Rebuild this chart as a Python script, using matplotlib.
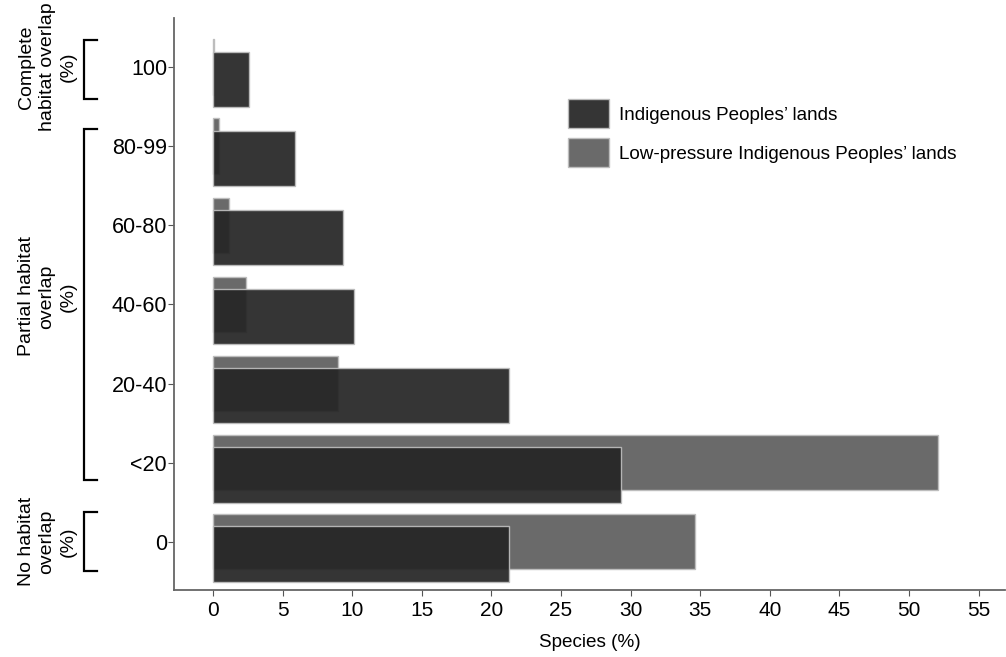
import numpy as np
import matplotlib
matplotlib.use("Agg")
import matplotlib.pyplot as plt
from matplotlib.transforms import blended_transform_factory

plt.rcParams["font.family"] = ["Liberation Sans", "DejaVu Sans"]

categories = ["0", "<20", "20-40", "40-60", "60-80", "80-99", "100"]
indigenous = [21.3, 29.3, 21.25, 10.1, 9.35, 5.9, 2.6]
low_pressure = [34.6, 52.1, 9.0, 2.4, 1.15, 0.45, 0.05]
x_ticks = list(range(0, 60, 5))

groups = [("Complete\nhabitat overlap\n(%)", 6.0, 5.6, 6.34),
          ("Partial habitat\noverlap\n(%)", 3.1, 0.78, 5.22),
          ("No habitat\noverlap\n(%)", 0.0, -0.37, 0.38)]

W, H = 1006, 657
fig = plt.figure(figsize=(W / 100, H / 100), dpi=100)
ax = fig.add_axes([174 / W, 1 - 590 / H, (1005 - 174) / W, (590 - 18) / H])

y = np.arange(len(categories))
h = 0.7
ax.barh(y, low_pressure, height=h, color="#6a6a6a", edgecolor="#bdbdbd",
        linewidth=1, zorder=2, label="Low-pressure Indigenous Peoples\u2019 lands")
ax.barh(y - 0.155, indigenous, height=h, color="#252525", alpha=0.93,
        edgecolor="#bdbdbd", linewidth=1, zorder=3, label="Indigenous Peoples\u2019 lands")

ax.set_xlim(-2.8, 56.9)
ax.set_ylim(-0.61, 6.62)
ax.set_yticks(y)
ax.set_yticklabels(categories, fontsize=15.5)
ax.set_xticks(x_ticks)
ax.tick_params(axis="x", labelsize=15, length=4, color="#555555", pad=4)
ax.tick_params(axis="y", length=4, color="#555555", pad=1)
for s in ["top", "right"]:
    ax.spines[s].set_visible(False)
for s in ["left", "bottom"]:
    ax.spines[s].set_color("#666666")
    ax.spines[s].set_linewidth(1.3)
ax.set_xlabel("Species (%)", fontsize=13.6, labelpad=10)

handles, labels = ax.get_legend_handles_labels()
leg = ax.legend(handles[::-1], labels[::-1], loc="upper left",
                bbox_to_anchor=(0.474, 0.858), frameon=False, fontsize=13.6,
                borderpad=0, borderaxespad=0,
                handlelength=2.2, handleheight=2.0, handletextpad=0.5,
                labelspacing=0.52)

tr = blended_transform_factory(fig.transFigure, ax.transData)
for label, yc, y0, y1 in groups:
    xa, xb = 84 / W, 97 / W
    ax.plot([xb, xa, xa, xb], [y1, y1, y0, y0], color="black", lw=1.6,
            transform=tr, clip_on=False, solid_joinstyle="miter")
    ax.text(47 / W, yc, label, transform=tr, rotation=90, ha="center",
            va="center", fontsize=14, linespacing=1.3)

fig.savefig("out.png", dpi=100)
